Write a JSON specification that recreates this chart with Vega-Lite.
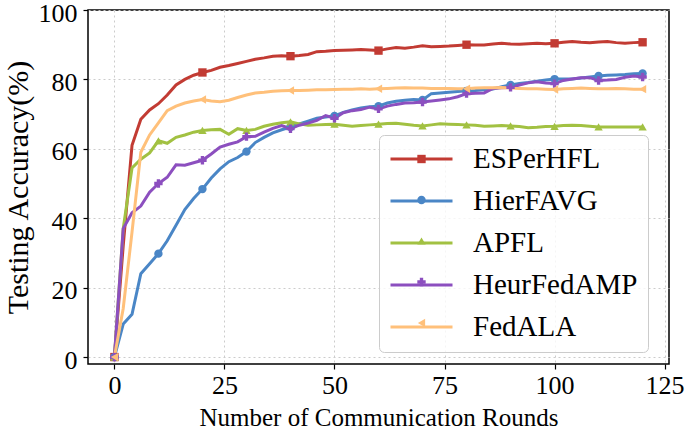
{
  "$schema": "https://vega.github.io/schema/vega-lite/v6.json",
  "width": 581,
  "height": 354,
  "autosize": {"type": "none"},
  "padding": {"left": 88, "top": 10, "right": 16, "bottom": 66},
  "background": "white",
  "config": {
    "view": {"stroke": "black", "strokeWidth": 1.5},
    "font": "Liberation Serif",
    "axis": {
      "domain": false,
      "grid": true,
      "gridColor": "#cccccc",
      "gridDash": [2, 3],
      "gridWidth": 1,
      "tickColor": "black",
      "tickSize": 5,
      "tickWidth": 1.2,
      "labelFont": "Liberation Serif",
      "labelFontSize": 26,
      "labelColor": "black",
      "titleFont": "Liberation Serif",
      "titleFontWeight": "normal",
      "titleColor": "black"
    }
  },
  "data": {
    "values": [
      {"round": 0, "ESPerHFL": 0, "HierFAVG": 0, "APFL": 0, "HeurFedAMP": 0, "FedALA": 0},
      {"round": 2, "ESPerHFL": 32, "HierFAVG": 9.5, "APFL": 37, "HeurFedAMP": 37, "FedALA": 14},
      {"round": 4, "ESPerHFL": 61, "HierFAVG": 12.3, "APFL": 54.5, "HeurFedAMP": 41.6, "FedALA": 36},
      {"round": 6, "ESPerHFL": 68.5, "HierFAVG": 24, "APFL": 57, "HeurFedAMP": 43.5, "FedALA": 59},
      {"round": 8, "ESPerHFL": 71.2, "HierFAVG": 26.9, "APFL": 58.8, "HeurFedAMP": 47.5, "FedALA": 64},
      {"round": 10, "ESPerHFL": 73, "HierFAVG": 29.8, "APFL": 62.3, "HeurFedAMP": 50, "FedALA": 67.5},
      {"round": 12, "ESPerHFL": 75.5, "HierFAVG": 33.5, "APFL": 61.6, "HeurFedAMP": 51.8, "FedALA": 71},
      {"round": 14, "ESPerHFL": 78.4, "HierFAVG": 38, "APFL": 63.3, "HeurFedAMP": 55.4, "FedALA": 72.3},
      {"round": 16, "ESPerHFL": 80, "HierFAVG": 42.5, "APFL": 64, "HeurFedAMP": 55.3, "FedALA": 73.2},
      {"round": 18, "ESPerHFL": 81.2, "HierFAVG": 45.7, "APFL": 64.8, "HeurFedAMP": 56, "FedALA": 73.8},
      {"round": 20, "ESPerHFL": 82, "HierFAVG": 48.4, "APFL": 65.3, "HeurFedAMP": 56.7, "FedALA": 74.2},
      {"round": 22, "ESPerHFL": 82.6, "HierFAVG": 51.6, "APFL": 65.5, "HeurFedAMP": 58.5, "FedALA": 73.8},
      {"round": 24, "ESPerHFL": 83.5, "HierFAVG": 54.2, "APFL": 65.6, "HeurFedAMP": 60.5, "FedALA": 73.6},
      {"round": 26, "ESPerHFL": 84, "HierFAVG": 56.3, "APFL": 64.2, "HeurFedAMP": 61.3, "FedALA": 74},
      {"round": 28, "ESPerHFL": 84.6, "HierFAVG": 57.5, "APFL": 65.8, "HeurFedAMP": 62, "FedALA": 74.8},
      {"round": 30, "ESPerHFL": 85.2, "HierFAVG": 59.2, "APFL": 65.3, "HeurFedAMP": 63.5, "FedALA": 75.5},
      {"round": 32, "ESPerHFL": 85.8, "HierFAVG": 61.8, "APFL": 65.6, "HeurFedAMP": 63.6, "FedALA": 76.1},
      {"round": 34, "ESPerHFL": 86.2, "HierFAVG": 63.3, "APFL": 66.5, "HeurFedAMP": 64.8, "FedALA": 76.3},
      {"round": 36, "ESPerHFL": 86.7, "HierFAVG": 64.6, "APFL": 67.1, "HeurFedAMP": 65.9, "FedALA": 76.6},
      {"round": 38, "ESPerHFL": 86.8, "HierFAVG": 65.5, "APFL": 67.5, "HeurFedAMP": 66.7, "FedALA": 76.7},
      {"round": 40, "ESPerHFL": 86.7, "HierFAVG": 66.3, "APFL": 67.8, "HeurFedAMP": 65.8, "FedALA": 76.8},
      {"round": 42, "ESPerHFL": 86.9, "HierFAVG": 67.2, "APFL": 67.2, "HeurFedAMP": 66.8, "FedALA": 76.8},
      {"round": 44, "ESPerHFL": 87.2, "HierFAVG": 68, "APFL": 66.8, "HeurFedAMP": 67.4, "FedALA": 76.9},
      {"round": 46, "ESPerHFL": 88, "HierFAVG": 68.8, "APFL": 66.9, "HeurFedAMP": 68.2, "FedALA": 77},
      {"round": 48, "ESPerHFL": 88.1, "HierFAVG": 69.2, "APFL": 67, "HeurFedAMP": 69.6, "FedALA": 77},
      {"round": 50, "ESPerHFL": 88.3, "HierFAVG": 69.5, "APFL": 67.1, "HeurFedAMP": 68.8, "FedALA": 77.1},
      {"round": 52, "ESPerHFL": 88.4, "HierFAVG": 70.5, "APFL": 66.8, "HeurFedAMP": 70.4, "FedALA": 77.2},
      {"round": 54, "ESPerHFL": 88.5, "HierFAVG": 71.2, "APFL": 66.5, "HeurFedAMP": 71, "FedALA": 77.2},
      {"round": 56, "ESPerHFL": 88.6, "HierFAVG": 71.8, "APFL": 66.7, "HeurFedAMP": 71.3, "FedALA": 77.3},
      {"round": 58, "ESPerHFL": 88.5, "HierFAVG": 72.1, "APFL": 66.9, "HeurFedAMP": 72, "FedALA": 77.2},
      {"round": 60, "ESPerHFL": 88.3, "HierFAVG": 72.3, "APFL": 67.1, "HeurFedAMP": 71.5, "FedALA": 77.3},
      {"round": 62, "ESPerHFL": 88.8, "HierFAVG": 73.2, "APFL": 67.3, "HeurFedAMP": 72.3, "FedALA": 77.4},
      {"round": 64, "ESPerHFL": 89.2, "HierFAVG": 73.7, "APFL": 67.4, "HeurFedAMP": 72.8, "FedALA": 77.5},
      {"round": 66, "ESPerHFL": 89, "HierFAVG": 74, "APFL": 67.1, "HeurFedAMP": 73.2, "FedALA": 77.6},
      {"round": 68, "ESPerHFL": 89.3, "HierFAVG": 74.2, "APFL": 66.8, "HeurFedAMP": 73.3, "FedALA": 77.5},
      {"round": 70, "ESPerHFL": 89.7, "HierFAVG": 74.1, "APFL": 66.6, "HeurFedAMP": 73.5, "FedALA": 77.5},
      {"round": 72, "ESPerHFL": 89.4, "HierFAVG": 75.9, "APFL": 66.9, "HeurFedAMP": 73.8, "FedALA": 77.4},
      {"round": 74, "ESPerHFL": 89.5, "HierFAVG": 76.1, "APFL": 67.2, "HeurFedAMP": 74.1, "FedALA": 77.4},
      {"round": 76, "ESPerHFL": 89.6, "HierFAVG": 76.3, "APFL": 67.1, "HeurFedAMP": 74.4, "FedALA": 77.4},
      {"round": 78, "ESPerHFL": 89.8, "HierFAVG": 76.5, "APFL": 67, "HeurFedAMP": 75, "FedALA": 77.3},
      {"round": 80, "ESPerHFL": 90, "HierFAVG": 76.7, "APFL": 66.9, "HeurFedAMP": 75.9, "FedALA": 77.3},
      {"round": 82, "ESPerHFL": 89.9, "HierFAVG": 76.8, "APFL": 66.8, "HeurFedAMP": 76, "FedALA": 77.5},
      {"round": 84, "ESPerHFL": 89.9, "HierFAVG": 77, "APFL": 66.5, "HeurFedAMP": 76.1, "FedALA": 77.6},
      {"round": 86, "ESPerHFL": 90.2, "HierFAVG": 77.2, "APFL": 66.6, "HeurFedAMP": 77.4, "FedALA": 77.6},
      {"round": 88, "ESPerHFL": 90.4, "HierFAVG": 77.9, "APFL": 66.7, "HeurFedAMP": 77.6, "FedALA": 77.7},
      {"round": 90, "ESPerHFL": 90.2, "HierFAVG": 78.4, "APFL": 66.6, "HeurFedAMP": 77.7, "FedALA": 77.5},
      {"round": 92, "ESPerHFL": 90.1, "HierFAVG": 78.8, "APFL": 66.4, "HeurFedAMP": 78.4, "FedALA": 77.4},
      {"round": 94, "ESPerHFL": 90.3, "HierFAVG": 79.1, "APFL": 66.1, "HeurFedAMP": 79, "FedALA": 77.3},
      {"round": 96, "ESPerHFL": 90.4, "HierFAVG": 79.5, "APFL": 66.2, "HeurFedAMP": 79.3, "FedALA": 77.3},
      {"round": 98, "ESPerHFL": 90.3, "HierFAVG": 79.8, "APFL": 66.4, "HeurFedAMP": 79, "FedALA": 77.2},
      {"round": 100, "ESPerHFL": 90.4, "HierFAVG": 80.1, "APFL": 66.5, "HeurFedAMP": 78.8, "FedALA": 77.1},
      {"round": 102, "ESPerHFL": 90.7, "HierFAVG": 80.1, "APFL": 66.7, "HeurFedAMP": 79.7, "FedALA": 77.3},
      {"round": 104, "ESPerHFL": 90.9, "HierFAVG": 80.1, "APFL": 66.8, "HeurFedAMP": 80.1, "FedALA": 77.4},
      {"round": 106, "ESPerHFL": 90.7, "HierFAVG": 80.4, "APFL": 66.7, "HeurFedAMP": 80.5, "FedALA": 77.5},
      {"round": 108, "ESPerHFL": 90.6, "HierFAVG": 80.7, "APFL": 66.5, "HeurFedAMP": 80.5, "FedALA": 77.4},
      {"round": 110, "ESPerHFL": 90.8, "HierFAVG": 81, "APFL": 66.3, "HeurFedAMP": 79.7, "FedALA": 77.3},
      {"round": 112, "ESPerHFL": 90.9, "HierFAVG": 81.2, "APFL": 66.3, "HeurFedAMP": 79.8, "FedALA": 77.3},
      {"round": 114, "ESPerHFL": 90.6, "HierFAVG": 81.3, "APFL": 66.3, "HeurFedAMP": 80, "FedALA": 77.4},
      {"round": 116, "ESPerHFL": 90.4, "HierFAVG": 81.4, "APFL": 66.3, "HeurFedAMP": 80.6, "FedALA": 77.3},
      {"round": 118, "ESPerHFL": 90.6, "HierFAVG": 81.6, "APFL": 66.3, "HeurFedAMP": 81, "FedALA": 77.2},
      {"round": 120, "ESPerHFL": 90.7, "HierFAVG": 81.7, "APFL": 66.3, "HeurFedAMP": 80.7, "FedALA": 77.2}
    ]
  },
  "transform": [
    {"fold": ["ESPerHFL", "HierFAVG", "APFL", "HeurFedAMP", "FedALA"], "as": ["method", "accuracy"]}
  ],
  "encoding": {
    "x": {
      "field": "round",
      "type": "quantitative",
      "title": "Number of Communication Rounds",
      "scale": {"domain": [-6, 126], "nice": false, "zero": false},
      "axis": {"values": [0, 25, 50, 75, 100, 125], "labelPadding": 3, "titlePadding": 7, "titleFontSize": 25}
    },
    "y": {
      "field": "accuracy",
      "type": "quantitative",
      "title": "Testing Accuracy(%)",
      "scale": {"domain": [-2, 100], "nice": false, "zero": false},
      "axis": {"values": [0, 20, 40, 60, 80, 100], "labelPadding": 6, "labelOffset": 3, "titlePadding": 5, "titleFontSize": 30}
    }
  },
  "layer": [
    {
      "mark": {"type": "line", "strokeWidth": 3},
      "encoding": {
        "color": {
          "field": "method",
          "type": "nominal",
          "sort": ["ESPerHFL", "HierFAVG", "APFL", "HeurFedAMP", "FedALA"],
          "scale": {
            "range": ["#c23b33", "#4a86c6", "#a2c142", "#8c4fbf", "#ffc07a"]
          },
          "legend": {
            "title": null,
            "orient": "none",
            "legendX": 291,
            "legendY": 125,
            "direction": "vertical",
            "padding": 10,
            "clipHeight": 28,
            "rowPadding": 13,
            "symbolType": "stroke",
            "symbolSize": 3844,
            "symbolStrokeWidth": 3,
            "labelFont": "Liberation Serif",
            "labelFontSize": 29,
            "labelColor": "black",
            "labelOffset": 19,
            "labelLimit": 400,
            "labelExpr": "datum.label == 'ESPerHFL' || datum.label == 'FedALA' ? datum.label : '\u00a0' + datum.label",
            "fillColor": "rgba(255,255,255,0.8)",
            "strokeColor": "#cccccc",
            "cornerRadius": 5
          }
        }
      }
    },
    {
      "transform": [
        {"filter": "datum.round % 10 == 0 && (datum.round % 20 == 0 || (datum.method != 'ESPerHFL' && datum.method != 'FedALA'))"}
      ],
      "mark": {"type": "point", "filled": true, "size": 70, "opacity": 1},
      "encoding": {
        "fill": {
          "field": "method",
          "type": "nominal",
          "scale": {
            "domain": ["ESPerHFL", "HierFAVG", "APFL", "HeurFedAMP", "FedALA"],
            "range": ["#c23b33", "#4a86c6", "#a2c142", "#8c4fbf", "#ffc07a"]
          },
          "legend": {
            "title": null,
            "orient": "none",
            "legendX": 291,
            "legendY": 125,
            "direction": "vertical",
            "padding": 10,
            "clipHeight": 28,
            "rowPadding": 13,
            "symbolSize": 70,
            "symbolStrokeWidth": 0,
            "symbolOffset": 28,
            "symbolOpacity": 1,
            "labelFontSize": 1,
            "labelExpr": "''"
          }
        },
        "shape": {
          "field": "method",
          "type": "nominal",
          "scale": {
            "domain": ["ESPerHFL", "HierFAVG", "APFL", "HeurFedAMP", "FedALA"],
            "range": ["square", "circle", "triangle-up", "cross", "triangle-left"]
          },
          "legend": {
            "title": null,
            "orient": "none",
            "legendX": 291,
            "legendY": 125,
            "direction": "vertical",
            "padding": 10,
            "clipHeight": 28,
            "rowPadding": 13,
            "symbolSize": 70,
            "symbolStrokeWidth": 0,
            "symbolOffset": 28,
            "symbolOpacity": 1,
            "labelFontSize": 1,
            "labelExpr": "''"
          }
        }
      }
    }
  ]
}
